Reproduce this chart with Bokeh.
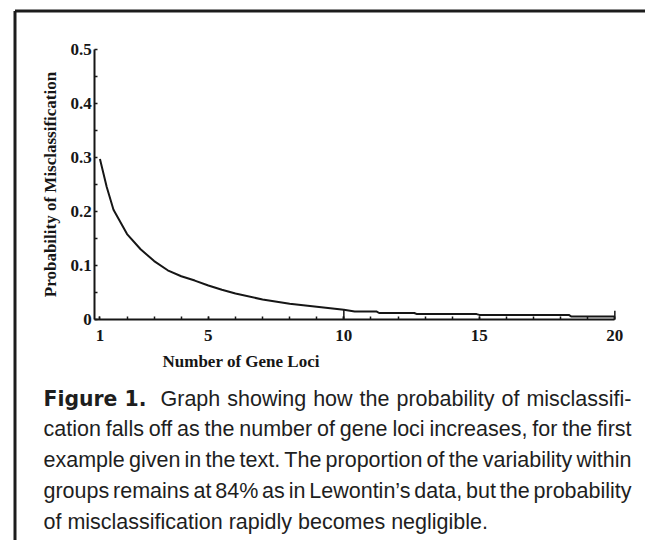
import subprocess
from bokeh.plotting import figure
from bokeh.models import FixedTicker, Label
from bokeh.embed import file_html
from bokeh.resources import INLINE

# ---------------- data ----------------
loci = [1, 1.25, 1.5, 2, 2.5, 3, 3.5, 4, 4.5, 5, 5.5, 6, 7, 8, 9, 10,
        10.4, 11.2, 11.3, 12.6, 12.7, 14.9, 15.0, 18.3, 18.4, 20]
prob = [0.297, 0.245, 0.203, 0.158, 0.130, 0.108, 0.091, 0.080, 0.072, 0.063,
        0.055, 0.048, 0.037, 0.029, 0.0235, 0.018,
        0.015, 0.015, 0.012, 0.012, 0.010, 0.010, 0.0085, 0.0085, 0.0055, 0.0055]

spike_x = [10, 20]
spike_top = [0.018, 0.016]

x_major = [1, 5, 10, 15, 20]
x_minor = list(range(1, 21))
y_major = [0, 0.1, 0.2, 0.3, 0.4, 0.5]
y_minor = [0.05, 0.15, 0.25, 0.35, 0.45]
x_axis_span = (0.81, 20)
y_axis_span = (0, 0.5)

x_title = "Number of Gene Loci"
y_title = "Probability of Misclassification"

caption_head = "Figure 1."
caption_lines = [
    "Graph showing how the probability of misclassifi-",
    "cation falls off as the number of gene loci increases, for the first",
    "example given in the text. The proportion of the variability within",
    "groups remains at 84% as in Lewontin\u2019s data, but the probability",
    "of misclassification rapidly becomes negligible.",
]

# ---------------- layout (page pixels) ----------------
W, H = 645, 540
AX_X0, AX_Y0 = 94.3, 319.0    # page px of axis origin (x=0.81, y=0)
PX_PER_X = 27.1
PX_PER_Y = 540.7
INK = "#161616"

x0 = x_axis_span[0]
x_range = (x0 - AX_X0 / PX_PER_X, x0 + (W - AX_X0) / PX_PER_X)
y_range = (-(H - AX_Y0) / PX_PER_Y, AX_Y0 / PX_PER_Y)

def sx(px):          # page px -> screen units (frame == whole canvas)
    return px

def sy(py):
    return H - py

def dx(px):          # page px -> data x (for decoration only)
    return x_range[0] + px / PX_PER_X

def dy(py):
    return y_range[1] - py / PX_PER_Y

p = figure(width=W, height=H, x_range=x_range, y_range=y_range,
           output_backend="svg", toolbar_location=None, min_border=0)
p.grid.visible = False
p.outline_line_color = None
p.background_fill_color = "white"
p.border_fill_color = "white"

# frame drawn around the figure: only its left and top edges fall inside the picture
p.segment(x0=[dx(14.5), dx(14.5)], y0=[dy(10.5), dy(10.5)],
          x1=[dx(2000), dx(14.5)], y1=[dy(10.5), dy(2000)],
          line_width=3, line_color="#1c1c1c")

p.line(loci, prob, line_width=2, line_color=INK)
p.segment(x0=spike_x, y0=[0] * len(spike_x), x1=spike_x, y1=spike_top,
          line_width=1.5, line_color=INK)

xa, ya = p.xaxis[0], p.yaxis[0]
xa.fixed_location = y_axis_span[0]
xa.bounds = x_axis_span
ya.fixed_location = x_axis_span[0]
ya.bounds = y_axis_span

for ax in (xa, ya):
    ax.axis_line_width = 2
    ax.axis_line_color = INK
    ax.major_tick_in = 3
    ax.major_tick_out = 0
    ax.minor_tick_in = 3
    ax.minor_tick_out = 0
    ax.major_tick_line_color = INK
    ax.minor_tick_line_color = INK
    ax.major_tick_line_width = 1.5
    ax.minor_tick_line_width = 1.5
    ax.major_label_text_font = "Liberation Serif"
    ax.major_label_text_font_style = "bold"
    ax.major_label_text_font_size = "17px"
    ax.major_label_text_color = INK

xa.ticker = FixedTicker(ticks=x_major, minor_ticks=x_minor)
ya.ticker = FixedTicker(ticks=y_major, minor_ticks=y_minor)
xa.major_label_standoff = 10
ya.major_label_standoff = 3

ya.axis_label = y_title
ya.axis_label_text_font = "Liberation Serif"
ya.axis_label_text_font_style = "bold"
ya.axis_label_text_font_size = "17px"
ya.axis_label_text_color = INK
ya.axis_label_standoff = 7

p.add_layout(Label(x=sx(162), y=sy(361), x_units="screen", y_units="screen",
                   text=x_title, text_font="Liberation Serif", text_font_style="bold",
                   text_font_size="17px", text_color=INK, text_baseline="alphabetic"))

# ---------------- caption (justified) ----------------
def font_file(spec):
    try:
        r = subprocess.run(["fc-match", "-f", "%{file}", spec],
                           capture_output=True, text=True, timeout=10)
        return r.stdout.strip() or None
    except Exception:
        return None

def measurer(spec, size):
    path = font_file(spec)
    try:
        from PIL import ImageFont
        f = ImageFont.truetype(path, size)
        return lambda s: f.getlength(s)
    except Exception:
        return lambda s: len(s) * 0.5 * size

S_REG = 21.5
S_BOLD = 20
meas = measurer("Liberation Sans:style=Regular", S_REG)
bold_meas = measurer("DejaVu Sans:style=Bold", 20)
bw = bold_meas(caption_head)
if bw > 0:
    S_BOLD = round(20 * 103 / bw, 2)

LEFT, RIGHT = 43, 631
baselines = [398, 428.8, 459.6, 490.4, 521]
CAP = "#1e1e1e"

p.add_layout(Label(x=sx(LEFT), y=sy(baselines[0]), x_units="screen", y_units="screen",
                   text=caption_head, text_font="DejaVu Sans", text_font_style="bold",
                   text_font_size=f"{S_BOLD}px", text_color=CAP, text_baseline="alphabetic"))

space_w = meas(" ")
for i, line in enumerate(caption_lines):
    words = line.split(" ")
    start = 160 if i == 0 else LEFT
    widths = [meas(w) for w in words]
    if i < len(caption_lines) - 1 and len(words) > 1:
        gap = (RIGHT - start - sum(widths)) / (len(words) - 1)
        gap = max(gap, 0.1 * S_REG)
    else:
        gap = space_w
    xpos = start
    for w, wd in zip(words, widths):
        p.add_layout(Label(x=sx(xpos), y=sy(baselines[i]), x_units="screen", y_units="screen",
                           text=w, text_font="Liberation Sans",
                           text_font_size=f"{S_REG}px", text_color=CAP,
                           text_baseline="alphabetic"))
        xpos += wd + gap

open("out.html", "w").write(file_html(p, INLINE))
